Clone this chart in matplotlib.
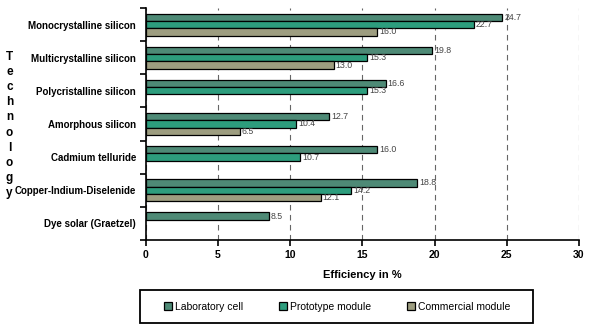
import matplotlib
matplotlib.use("Agg")
import matplotlib.pyplot as plt
from matplotlib.patches import Rectangle
import numpy as np

plt.rcParams['font.family'] = ['Liberation Sans', 'DejaVu Sans']

technologies = ['Monocrystalline silicon', 'Multicrystalline silicon', 'Polycristalline silicon',
                'Amorphous silicon', 'Cadmium telluride', 'Copper-Indium-Diselenide',
                'Dye solar (Graetzel)']
lab_cell = [24.7, 19.8, 16.6, 12.7, 16.0, 18.8, 8.5]
prototype = [22.7, 15.3, 15.3, 10.4, 10.7, 14.2, None]
commercial = [16.0, 13.0, None, 6.5, None, 12.1, None]

series = [('Laboratory cell', lab_cell, '#4e8a76'),
          ('Prototype module', prototype, '#2d9d7d'),
          ('Commercial module', commercial, '#9d9d80')]

fig = plt.figure(figsize=(6, 3.35), dpi=100)
ax = fig.add_axes([0.243, 0.284, 0.722, 0.692])

y = np.arange(len(technologies))
h = 0.22
for i, (name, vals, col) in enumerate(series):
    for j, v in enumerate(vals):
        if v is None:
            continue
        ax.barh(y[j] + (i - 1) * h, v, height=h, color=col, edgecolor='black', linewidth=0.9,
                label=name if j == 0 else None, zorder=3)
        ax.text(v + 0.15, y[j] + (i - 1) * h, f'{v:.1f}', fontsize=6.3, color='#444444',
                va='center', ha='left', zorder=4)

ax.set_xlim(0, 30)
ax.set_ylim(len(technologies) - 0.5, -0.5)
ax.set_xticks(range(0, 31, 5))
ax.set_yticks(y)
ax.set_yticklabels(technologies, fontsize=7, fontweight='bold')
ax.set_yticks(np.arange(-0.5, len(technologies), 1), minor=True)
ax.tick_params(axis='y', which='major', length=0, pad=7)
ax.tick_params(axis='y', which='minor', length=4, width=1.2)
ax.tick_params(axis='x', length=4, width=1.2, labelsize=7.5)
for lab in ax.get_xticklabels():
    lab.set_fontweight('bold')
ax.grid(axis='x', linestyle=(0, (5, 4)), color='#666666', linewidth=0.8, zorder=0)
for s in ['top', 'right']:
    ax.spines[s].set_visible(False)
ax.spines['left'].set_linewidth(1.2)
ax.spines['bottom'].set_linewidth(1.2)

ax.set_xlabel('Efficiency in %', fontsize=8, fontweight='bold', labelpad=7)
fig.text(0.016, 1 - 125 / 335, '\n'.join('Technology'), fontsize=8.5, fontweight='bold',
         ha='center', va='center', linespacing=1.34)

handles, labels = ax.get_legend_handles_labels()
fig.legend(handles, labels, loc='center', ncol=3,
           bbox_to_anchor=(337 / 600, 1 - 306.5 / 335),
           fontsize=7.5, frameon=False, columnspacing=3.4,
           handlelength=0.8, handleheight=0.8, handletextpad=0.3)
fig.patches.append(Rectangle((140 / 600, 1 - 323 / 335), 393 / 600, 33 / 335,
                             transform=fig.transFigure, fill=False,
                             edgecolor='black', linewidth=1.3))

fig.savefig('out.png', dpi=100)
